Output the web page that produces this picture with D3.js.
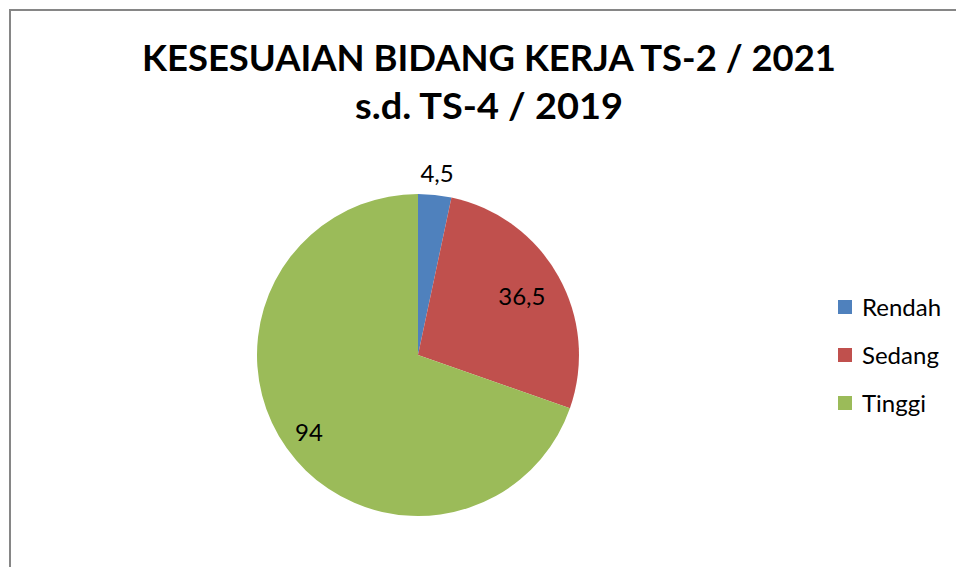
<!DOCTYPE html>
<html>
<head>
<meta charset="utf-8">
<script src="https://cdn.jsdelivr.net/npm/d3@7"></script>
<style>
  body { margin: 0; background: #fff; }
  svg { display: block; font-family: Lato, 'Open Sans', sans-serif; }
</style>
</head>
<body>
<div id="chart"></div>
<script>
const categories = ['Rendah', 'Sedang', 'Tinggi']
const values = [4.5, 36.5, 94]
const valueLabels = ['4,5', '36,5', '94']
const colors = ['#4F81BD', '#C0504D', '#9BBB59']
const titleLines = ['KESESUAIAN BIDANG KERJA TS-2 / 2021', 's.d. TS-4 / 2019']

const width = 956
const height = 567
const cx = 418
const cy = 355
const radius = 161
// label distance from centre, as share of radius (Excel best-fit)
const labelDist = [1.13, 0.74, 0.83]

const svg = d3.select('#chart')
  .append('svg')
  .attr('width', width)
  .attr('height', height)

// chart area frame
svg.append('rect')
  .attr('x', 10)
  .attr('y', 10)
  .attr('width', width)
  .attr('height', height)
  .attr('fill', 'none')
  .attr('stroke', '#868686')
  .attr('stroke-width', 2)

// title, fitted to the original widths
const titleSpecs = [
  { y: 71, left: 142, right: 836 },
  { y: 119, left: 355, right: 623 }
]
titleLines.forEach((line, i) => {
  const s = titleSpecs[i]
  svg.append('text')
    .attr('x', (s.left + s.right) / 2)
    .attr('y', s.y)
    .attr('text-anchor', 'middle')
    .attr('font-size', 37)
    .attr('font-weight', 700)
    .attr('fill', '#000')
    .attr('textLength', s.right - s.left)
    .attr('lengthAdjust', 'spacingAndGlyphs')
    .text(line)
})

const pie = d3.pie().sort(null).value(d => d)
const arc = d3.arc().innerRadius(0).outerRadius(radius)
const arcs = pie(values)

const g = svg.append('g').attr('transform', `translate(${cx},${cy})`)

g.selectAll('path')
  .data(arcs)
  .join('path')
  .attr('d', arc)
  .attr('fill', (d, i) => colors[i])

g.selectAll('text.lbl')
  .data(arcs)
  .join('text')
  .attr('class', 'lbl')
  .attr('transform', (d, i) => {
    const a = (d.startAngle + d.endAngle) / 2
    const r = radius * labelDist[i]
    return `translate(${Math.sin(a) * r},${-Math.cos(a) * r})`
  })
  .attr('text-anchor', 'middle')
  .attr('dy', '0.35em')
  .attr('font-size', 24)
  .attr('fill', '#000')
  .text((d, i) => valueLabels[i])

// legend
const legend = svg.append('g').attr('transform', 'translate(838,300)')
const items = legend.selectAll('g')
  .data(categories)
  .join('g')
  .attr('transform', (d, i) => `translate(0,${i * 48})`)

items.append('rect')
  .attr('width', 14)
  .attr('height', 14)
  .attr('fill', (d, i) => colors[i])

items.append('text')
  .attr('x', 24)
  .attr('y', 16)
  .attr('font-size', 24)
  .attr('fill', '#000')
  .text(d => d)
</script>
</body>
</html>
